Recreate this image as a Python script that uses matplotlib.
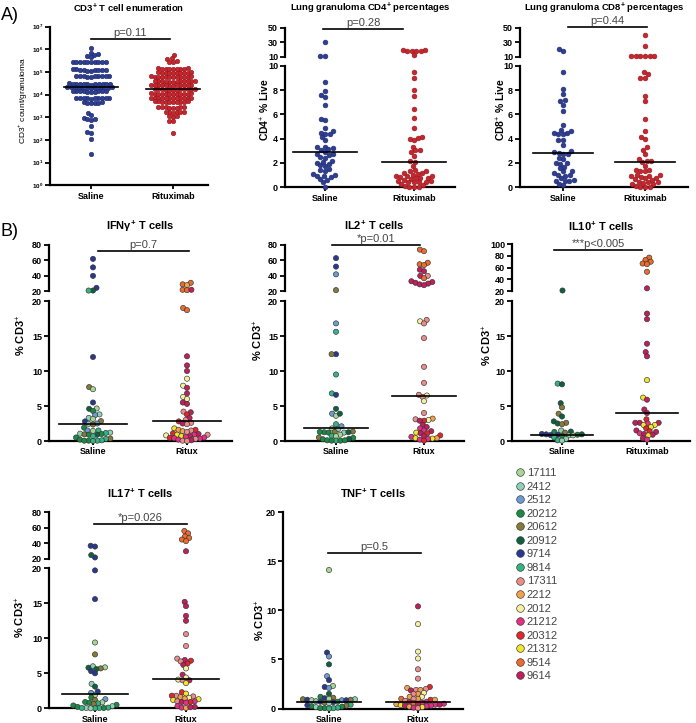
import numpy as np
import matplotlib
matplotlib.use("Agg")
import matplotlib.pyplot as plt
from matplotlib import transforms
from matplotlib.lines import Line2D

plt.rcParams['font.family'] = ['Liberation Sans', 'DejaVu Sans']
plt.rcParams['mathtext.fontset'] = 'custom'
plt.rcParams['mathtext.rm'] = 'Liberation Sans'
plt.rcParams['mathtext.bf'] = 'Liberation Sans:bold'

# ---------------- data ----------------
animal_ids = ['17111', '2412', '2512', '20212', '20612', '20912', '9714', '9814',
              '17311', '2212', '2012', '21212', '20312', '21312', '9514', '9614']
animal_colors = ['#a6d796', '#8fd1b4', '#6c9bd2', '#1a8a45', '#857a3a', '#0f6040',
                 '#283891', '#34b383', '#ec8c8a', '#f4a14e', '#f6f0a0', '#e32f84',
                 '#e3262b', '#f2e52a', '#ec6b2d', '#c21d5e']

# A) CD3 counts per granuloma
cd3_saline = [1.2e6, 7e5, 6e5, 5.5e5, 5e5, 4.5e5,
              2.9e5, 2.8e5, 2.7e5, 2.85e5, 2.75e5, 2.8e5, 2.9e5, 2.7e5, 2.8e5, 2.85e5,
              1.3e5, 1.25e5, 1.2e5, 1.15e5, 1.2e5, 1.25e5, 1.2e5, 1.3e5, 1.15e5, 1.2e5,
              6.8e4, 6.5e4, 6.3e4, 6.6e4, 6.4e4, 6.5e4, 6.7e4, 6.2e4, 6.5e4, 6.6e4,
              3.1e4, 3.0e4, 2.9e4, 3.2e4, 3.0e4, 2.8e4, 3.1e4, 2.9e4, 3.0e4, 3.1e4, 2.9e4, 3.0e4,
              2.1e4, 2.0e4, 1.9e4, 2.2e4, 2.0e4, 2.1e4, 1.95e4, 2.05e4, 2.0e4, 1.9e4, 2.1e4, 2.0e4,
              1.45e4, 1.4e4, 1.35e4, 1.4e4, 1.5e4, 1.4e4, 1.35e4, 1.45e4, 1.4e4, 1.3e4,
              7.2e3, 7e3, 6.8e3, 7.1e3, 6.9e3, 7e3, 7.3e3, 6.7e3, 7e3, 7.1e3,
              4.6e3, 4.4e3, 4.5e3, 4.7e3, 4.3e3, 4.5e3,
              1.6e3, 1.3e3, 9e2, 8.5e2, 8e2, 8.5e2, 4e2, 2.2e2, 2.0e2, 1.1e2, 2.5e1]
cd3_ritux = [5.4e5, 4.0e5, 3.8e5, 3.0e5, 2.8e5, 2.9e5,
             1.4e5, 1.35e5, 1.45e5, 1.4e5, 1.38e5, 1.42e5, 1.36e5, 1.44e5, 1.4e5,
             9.4e4, 9.2e4, 9.6e4, 9.3e4, 9.5e4, 9.4e4, 9.1e4, 9.7e4, 9.4e4, 9.3e4,
             6.2e4, 6.1e4, 6.3e4, 6.0e4, 6.4e4, 6.2e4, 6.1e4, 6.3e4, 6.2e4, 6.0e4, 6.4e4, 6.2e4,
             3.9e4, 3.8e4, 4.0e4, 3.9e4, 3.7e4, 4.1e4, 3.9e4, 3.8e4, 4.0e4, 3.9e4, 3.8e4, 4.0e4,
             2.6e4, 2.5e4, 2.7e4, 2.6e4, 2.55e4, 2.65e4, 2.6e4, 2.5e4, 2.7e4, 2.6e4, 2.55e4, 2.65e4,
             1.7e4, 1.65e4, 1.75e4, 1.7e4, 1.68e4, 1.72e4, 1.7e4, 1.65e4, 1.75e4, 1.7e4, 1.66e4, 1.74e4,
             1.1e4, 1.08e4, 1.12e4, 1.1e4, 1.05e4, 1.15e4, 1.1e4, 1.08e4, 1.12e4, 1.1e4, 1.06e4, 1.14e4,
             7.3e3, 7.1e3, 7.5e3, 7.3e3, 7.2e3, 7.4e3, 7.3e3, 7.1e3, 7.5e3, 7.3e3, 7.2e3, 7.4e3,
             4.9e3, 4.8e3, 5.0e3, 4.9e3, 4.7e3, 5.1e3, 4.9e3, 4.8e3, 5.0e3, 4.9e3,
             2.8e3, 2.7e3, 2.9e3, 2.8e3, 2.6e3, 3.0e3, 2.8e3, 2.7e3,
             1.7e3, 1.6e3, 1.8e3, 1.7e3, 1.65e3, 1.75e3,
             1.1e3, 1.05e3, 1.15e3, 7e2, 6.8e2, 2e2]
cd3_medians = [2.1e4, 1.75e4]

# A) CD4 / CD8 % of live
cd4_saline = [30, 11, 10.8, 8.65, 7.9, 7.6, 7.4, 6.8, 5.6, 5.5, 4.9, 4.6, 4.5, 4.4, 4.35,
              4.1, 3.85, 3.35, 3.3, 3.2, 3.15, 3.1, 2.9, 2.75, 2.7, 2.65, 2.5, 2.45, 2.2,
              2.1, 2.0, 1.9, 1.8, 1.75, 1.5, 1.4, 1.35, 1.1, 1.05, 0.95, 0.9, 0.85, 0.7,
              0.6, 0.4, 0.05]
cd4_ritux = [19.5, 18.5, 18, 12.5, 18, 18, 19, 9.5, 9.0, 8.0, 7.5, 6.4, 5.7, 4.9, 4.1,
             4.05, 4.0, 3.85, 3.35, 3.1, 3.05, 2.9, 2.6, 2.15, 2.1, 1.75, 1.4, 1.35, 1.3,
             1.2, 1.15, 1.1, 1.05, 0.95, 0.9, 0.9, 0.85, 0.8, 0.8, 0.75, 0.7, 0.6, 0.55,
             0.5, 0.45, 0.45, 0.4, 0.4, 0.3, 0.2, 0.1, 0.05, 0.05, 0.0]
cd4_medians = [2.9, 2.1]
cd8_saline = [21, 18, 9.5, 8.1, 7.7, 7.2, 7.1, 6.8, 6.3, 5.1, 4.7, 4.65, 4.5, 4.45, 4.4,
              4.35, 3.9, 3.85, 3.45, 2.95, 2.9, 2.85, 2.75, 2.7, 2.4, 2.3, 2.0, 2.0, 1.95,
              1.7, 1.55, 1.35, 1.3, 1.15, 1.05, 1.0, 0.95, 0.75, 0.6, 0.55, 0.55, 0.5,
              0.25, 0.15]
cd8_ritux = [40, 25, 11, 11, 11, 11, 11, 11, 9.5, 9.3, 9.0, 9.0, 7.5, 7.1, 5.6, 4.6, 4.1,
             4.0, 3.35, 3.1, 2.75, 2.3, 2.2, 2.15, 2.05, 1.75, 1.45, 1.4, 1.35, 1.3, 1.05,
             1.0, 0.95, 0.9, 0.85, 0.8, 0.75, 0.65, 0.6, 0.45, 0.4, 0.4, 0.35, 0.3, 0.25,
             0.1, 0.05, 0.0, 0.0]
cd8_medians = [2.85, 2.1]

# B) cytokine+ % of CD3, (value, animal) pairs
ifng_saline = [(62, '9714'), (51, '9714'), (40, '9714'), (24.5, '9714'), (21, '20912'), (21, '9814'),
               (12.0, '9714'), (7.7, '20612'), (7.4, '17111'), (5.5, '9714'), (4.6, '20912'),
               (4.65, '17111'), (4.3, '20212'), (3.8, '2412'), (3.7, '2512'), (3.3, '2412'),
               (3.15, '17111'), (2.85, '20612'), (2.8, '9714'), (2.5, '2512'), (2.45, '2412'),
               (2.35, '20612'), (1.9, '20212'), (1.5, '2512'), (1.5, '9814'), (1.45, '17111'),
               (1.2, '2412'), (1.15, '9814'), (1.05, '2412'), (1.0, '20212'), (0.95, '20612'),
               (0.9, '20212'), (0.9, '20912'), (0.7, '9814'), (0.5, '20212'), (0.35, '20612'),
               (0.3, '9814'), (0.2, '20212'), (0.1, '9814'), (0.05, '20212'), (0.05, '9814'),
               (0.05, '20212'), (0.0, '9814')]
ifng_ritux = [(31, '9514'), (29, '9514'), (28, '2212'), (22, '9514'), (21.5, '9514'), (22, '9614'),
              (19.0, '9514'), (18.7, '9514'), (12.1, '9614'), (10.8, '9614'), (10.0, '9614'),
              (8.9, '2012'), (7.9, '2012'), (7.6, '9614'), (6.8, '9614'), (6.3, '2012'),
              (6.0, '2012'), (5.5, '9614'), (5.3, '9614'), (4.2, '17311'), (4.1, '9614'),
              (3.8, '20312'), (3.3, '9614'), (3.0, '17311'), (2.8, '20312'), (2.6, '17311'),
              (2.5, '9614'), (2.4, '17311'), (1.8, '21312'), (1.6, '2212'), (1.6, '20312'),
              (1.5, '17311'), (1.4, '2212'), (1.3, '17311'), (1.1, '20312'), (1.0, '9614'),
              (0.9, '21212'), (0.9, '21312'), (0.9, '17311'), (0.8, '2012'), (0.7, '9614'),
              (0.7, '21312'), (0.6, '21212'), (0.5, '21212'), (0.45, '20312'), (0.4, '21212'),
              (0.35, '21212'), (0.3, '17311'), (0.2, '21212'), (0.1, '9614'), (0.05, '17311'),
              (0.0, '17311')]
ifng_medians = [2.5, 2.9]

il2_saline = [(63, '9714'), (52, '9714'), (42, '2512'), (21.5, '20612'),
              (16.8, '2512'), (15.6, '9814'), (12.4, '9714'), (12.4, '20612'), (9.5, '9814'),
              (6.8, '9814'), (6.6, '9714'), (4.6, '20912'), (3.9, '2512'), (3.6, '17111'),
              (3.9, '20912'), (2.4, '9814'), (2.1, '2512'), (1.8, '17111'), (1.7, '2412'),
              (1.35, '20612'), (1.3, '20612'), (1.25, '20212'), (1.2, '20212'), (1.2, '2412'),
              (1.25, '20912'), (1.3, '20212'), (0.9, '17111'), (0.75, '9814'), (0.7, '17111'),
              (0.5, '20612'), (0.45, '20212'), (0.3, '20912'), (0.25, '20212'), (0.1, '20212'),
              (0.05, '9814'), (0.05, '20212'), (0.05, '20212'), (0.1, '20212')]
il2_ritux = [(74, '9514'), (72, '9514'), (57, '9514'), (55, '9514'), (54, '9514'), (48, '9614'),
             (46, '9614'), (40, '9614'), (40, '17311'), (37, '9514'), (33, '9614'), (32, '9614'),
             (31, '9614'), (30, '9614'), (29, '9614'), (28, '9614'),
             (17.3, '17311'), (17.1, '2012'), (16.8, '17311'), (14.7, '17311'), (10.6, '17311'),
             (8.3, '17311'), (6.6, '17311'), (6.5, '2012'), (6.3, '17311'), (5.7, '2012'),
             (4.0, '17311'), (3.2, '2212'), (3.1, '17311'), (3.0, '2012'), (2.9, '20312'),
             (2.9, '9614'), (2.3, '9614'), (2.0, '9614'), (1.8, '21212'), (1.5, '21212'),
             (1.4, '9614'), (1.2, '21312'), (1.1, '9614'), (1.1, '20312'), (0.8, '20312'),
             (0.7, '9614'), (0.6, '21212'), (0.4, '21312'), (0.4, '2212'), (0.35, '21312'),
             (0.3, '21212'), (0.2, '21212'), (0.05, '20312')]
il2_medians = [1.8, 6.4]

il10_saline = [(23, '20912'),
               (8.2, '9814'), (8.1, '20912'), (5.4, '20912'), (4.8, '20612'), (3.9, '20612'),
               (3.5, '20912'), (2.8, '20912'), (2.6, '20612'), (2.5, '20912'), (2.4, '20612'),
               (1.5, '2412'), (1.35, '20912'), (1.3, '20212'), (1.2, '20612'), (1.0, '9714'),
               (0.95, '9714'), (0.9, '9714'), (0.85, '9714'), (0.9, '20212'), (0.8, '2412'),
               (0.95, '20912'), (0.8, '17111'), (0.75, '20212'), (0.5, '9814'), (0.3, '2412'),
               (0.1, '9814'), (0.05, '2412')]
il10_ritux = [(77, '9514'), (73, '9514'), (70, '9514'), (67, '9514'), (66, '9514'), (53, '9514'),
              (25, '9614'),
              (18.2, '9614'), (17.4, '9614'), (13.9, '9614'), (12.7, '9614'), (12.1, '9614'),
              (8.7, '21312'), (6.2, '21312'), (5.9, '9614'), (4.5, '9614'), (4.0, '9614'),
              (3.1, '20312'), (2.6, '9614'), (2.6, '9614'), (2.6, '9614'), (2.5, '21212'),
              (2.3, '21312'), (2.3, '21312'), (2.0, '21312'), (1.8, '20312'), (1.5, '9614'),
              (1.4, '20312'), (1.3, '9614'), (1.1, '21212'), (1.0, '9614'), (0.9, '9614'),
              (0.8, '21312'), (0.4, '9614'), (0.2, '21212')]
il10_medians = [0.9, 4.0]

il17_saline = [(37, '9714'), (36, '9714'), (22, '9714'), (25, '20912'),
               (19.7, '9714'), (15.6, '9714'), (9.4, '17111'), (7.7, '20612'), (6.0, '2412'),
               (5.85, '17111'), (5.8, '20912'), (5.7, '20612'), (5.6, '20912'), (5.0, '9714'),
               (5.3, '9714'), (3.5, '2412'), (3.1, '20912'), (2.4, '9714'), (2.2, '2512'),
               (1.9, '17111'), (1.55, '20212'), (1.3, '2512'), (1.2, '20612'), (0.9, '20212'),
               (0.85, '17111'), (0.8, '20212'), (0.7, '9814'), (0.6, '20612'), (0.5, '20212'),
               (0.4, '20212'), (0.3, '2412'), (0.2, '20212'), (0.1, '9814'), (0.05, '9814'),
               (0.05, '2412'), (0.05, '20212'), (0.0, '9814'), (0.0, '2412'), (0.05, '9814')]
il17_ritux = [(56, '9514'), (53, '9514'), (49, '9514'), (47, '9514'), (45, '9514'), (43, '9514'),
              (30, '9614'),
              (15.2, '9614'), (14.6, '9614'), (13.2, '9614'), (12.5, '9614'), (10.6, '17311'),
              (8.9, '17311'), (7.1, '17311'), (6.9, '9614'), (6.8, '20312'), (6.7, '17311'),
              (6.4, '20312'), (6.2, '9614'), (5.7, '2012'), (4.8, '9614'), (4.4, '2012'),
              (4.1, '2012'), (4.0, '17311'), (4.0, '9614'), (3.6, '21312'), (2.3, '20312'),
              (2.1, '21312'), (1.8, '17311'), (1.8, '20312'), (1.7, '17311'), (1.6, '2212'),
              (1.5, '2012'), (1.4, '2212'), (1.3, '21312'), (1.2, '21312'), (1.0, '17311'),
              (1.0, '21212'), (0.9, '9614'), (0.9, '20312'), (0.8, '21212'), (0.3, '21212'),
              (0.2, '9614'), (0.1, '21212'), (0.05, '2212'), (0.15, '9614')]
il17_medians = [2.0, 4.2]

tnf_saline = [(14.1, '17111'), (5.7, '9714'), (5.3, '2512'), (4.5, '20912'), (3.3, '2512'),
              (2.9, '9714'), (2.3, '17111'), (2.2, '9714'), (2.1, '2512'), (1.5, '20912'),
              (1.2, '20212'), (1.1, '20612'), (1.05, '9714'), (1.0, '17111'), (0.95, '2412'),
              (0.95, '20612'), (0.9, '20612'), (0.9, '9714'), (0.85, '2512'), (0.85, '9714'),
              (0.85, '17111'), (0.75, '2412'), (0.7, '9714'), (0.7, '20212'), (0.65, '9714'),
              (0.6, '20612'), (0.55, '2412'), (0.4, '9814'), (0.35, '9714'), (0.3, '20612'),
              (0.25, '20212'), (0.2, '20212'), (0.15, '2412'), (0.1, '9814'), (0.05, '20212'),
              (0.05, '9814'), (0.05, '20212'), (0.0, '9814')]
tnf_ritux = [(10.4, '9614'), (8.6, '2012'), (5.8, '2012'), (5.1, '2012'), (4.0, '17311'),
             (3.05, '17311'), (2.2, '20312'), (2.1, '2212'), (2.0, '17311'), (1.9, '17311'),
             (1.85, '9614'), (1.9, '2212'), (1.6, '2012'), (1.5, '2212'), (1.5, '17311'),
             (1.2, '2012'), (1.2, '2212'), (1.0, '2212'), (1.0, '17311'), (0.9, '20312'),
             (0.9, '2212'), (1.0, '9514'), (0.8, '17311'), (0.7, '21212'), (0.65, '9614'),
             (0.6, '21212'), (0.55, '9514'), (0.5, '9614'), (0.5, '21212'), (0.45, '2212'),
             (0.4, '21212'), (0.4, '9614'), (0.35, '21312'), (0.3, '21212'), (0.3, '9614'),
             (0.25, '21212'), (0.2, '2212'), (0.15, '21312'), (0.1, '21212'), (0.05, '17311')]
tnf_medians = [0.7, 0.7]

# ---------------- layout helpers ----------------
W, H = 696, 723
fig = plt.figure(figsize=(W / 100, H / 100), dpi=100)
color_of = dict(zip(animal_ids, animal_colors))
BLUE, BLUE_E = '#2e3f93', '#1d2a6b'
RED, RED_E = '#c8262e', '#8e1a20'
TICK_FS = 6.5


def add_px(l, t, r, b):
    return fig.add_axes([l / W, 1 - b / H, (r - l) / W, (b - t) / H])


def style_axis(ax, bottom=True):
    for s in ['top', 'right']:
        ax.spines[s].set_visible(False)
    ax.spines['left'].set_linewidth(1.6)
    ax.spines['bottom'].set_linewidth(1.6)
    ax.patch.set_alpha(0)
    ax.tick_params(axis='y', direction='out', length=3.5, width=1.3, pad=1.5)
    if bottom:
        ax.tick_params(axis='x', direction='out', length=3, width=1.3, pad=1.5)
    else:
        ax.spines['bottom'].set_visible(False)
        ax.set_xticks([])


def swarm(ax, cat, vals, d):
    """beeswarm offsets computed in pixel space, returned in data units"""
    vals = np.asarray(vals, dtype=float)
    ypix = ax.transData.transform(np.column_stack([np.zeros(len(vals)), vals]))[:, 1]
    xs = np.zeros(len(vals))
    px, py = [], []
    for i in np.argsort(ypix, kind='stable'):
        y = ypix[i]
        near = [(a, b) for a, b in zip(px, py) if abs(b - y) < d]
        cands = [0.0]
        for a, b in near:
            dx = np.sqrt(d * d - (b - y) ** 2)
            cands += [a + dx, a - dx]
        cands.sort(key=lambda c: (abs(c), c))
        for c in cands:
            if all((c - a) ** 2 + (y - b) ** 2 >= d * d - 1e-6 for a, b in near):
                xs[i] = c
                break
        px.append(xs[i])
        py.append(y)
    x0, x1 = ax.get_xlim()
    ppu = ax.get_window_extent().width / (x1 - x0)
    return cat + xs / ppu


def set_cats(ax, l, r, sx, rx):
    ax.set_xlim((l - sx) / (rx - sx), (r - sx) / (rx - sx))


def pval(ax, text, x0, x1, yfrac):
    tr = transforms.blended_transform_factory(ax.transData, ax.transAxes)
    ax.plot([x0, x1], [yfrac, yfrac], color='black', lw=1.2, transform=tr, clip_on=False)
    ax.annotate(text, xy=((x0 + x1) / 2, yfrac), xycoords=tr, xytext=(0, 0.8),
                textcoords='offset points', ha='center', va='bottom', fontsize=8,
                color='#444444')


def median_line(ax, cat, m, half=0.36):
    ax.plot([cat - half, cat + half], [m, m], color='black', lw=1.2, zorder=5)


def title(l, r, y, text, fs=7.5):
    fig.text((l + r) / 2 / W, 1 - y / H, text, ha='center', va='center',
             fontsize=fs, fontweight='bold')


def ylabel(x, y, text, fs=7.5, weight='bold'):
    fig.text(x / W, 1 - y / H, text, rotation=90, ha='center', va='center',
             fontsize=fs, fontweight=weight)


def plain_scatter(ax, cat, vals, d, fc, ec, size):
    xs = swarm(ax, cat, vals, d)
    ax.scatter(xs, vals, s=(size * 0.72) ** 2, c=fc, edgecolors=ec, linewidths=0.4,
               zorder=3, clip_on=False)


def id_scatter(ax, cat, pairs, d, size):
    vals = [v for v, _ in pairs]
    cols = [color_of[a] for _, a in pairs]
    if not vals:
        return
    xs = swarm(ax, cat, vals, d)
    ax.scatter(xs, vals, s=(size * 0.72) ** 2, c=cols, edgecolors='#333333', linewidths=0.45,
               zorder=3, clip_on=False)


def broken_pair(l, r, tt, tb, lt, lb, sx, rx, top_lim, top_ticks, low_lim, low_ticks, labels):
    at = add_px(l, tt, r, tb)
    al = add_px(l, lt, r, lb)
    for ax in (at, al):
        set_cats(ax, l, r, sx, rx)
    at.set_ylim(*top_lim)
    al.set_ylim(*low_lim)
    style_axis(at, bottom=False)
    style_axis(al)
    at.set_yticks(top_ticks, labels=[str(t) for t in top_ticks], fontsize=TICK_FS, fontweight='bold')
    al.set_yticks(low_ticks, labels=[str(t) for t in low_ticks], fontsize=TICK_FS, fontweight='bold')
    al.set_xticks([0, 1], labels=labels, fontsize=TICK_FS, fontweight='bold')
    return at, al


# ---------------- A1: CD3 counts (log) ----------------
ax = add_px(50, 26.7, 208, 185.3)
set_cats(ax, 50, 208, 91, 173)
ax.set_yscale('log')
ax.set_ylim(1, 1e7)
style_axis(ax)
ax.minorticks_off()
ax.set_yticks([10.0 ** k for k in range(8)],
              labels=[r'$\mathbf{10^{%d}}$' % k for k in range(8)], fontsize=4.5)
ax.set_xticks([0, 1], labels=['Saline', 'Rituximab'], fontsize=TICK_FS, fontweight='bold')
plain_scatter(ax, 0, cd3_saline, 3.7, BLUE, BLUE_E, 4.5)
plain_scatter(ax, 1, cd3_ritux, 3.7, RED, RED_E, 4.5)
for c, m in enumerate(cd3_medians):
    median_line(ax, c, m, 0.33)
pval(ax, 'p=0.11', 0.0, 0.96, 0.922)
title(50, 208, 8, r'CD3$^{\mathbf{+}}$ T cell enumeration', 6.8)
ylabel(23, 100, r'CD3$^{+}$ count/granuloma', 6, 'normal')

# ---------------- A2 / A3: CD4, CD8 % live ----------------
for (l, r, sx, rx, sal, rit, meds, ptxt, px0, px1, py, ttl, ylab, ylx) in [
        (285, 455, 325, 414, cd4_saline, cd4_ritux, cd4_medians, 'p=0.28', -0.02, 0.88, 0.945,
         r'Lung granuloma CD4$^{\mathbf{+}}$ percentages', r'CD4$^{+}$ % Live', 265),
        (520, 688, 563, 645, cd8_saline, cd8_ritux, cd8_medians, 'p=0.44', 0.06, 1.02, 1.03,
         r'Lung granuloma CD8$^{\mathbf{+}}$ percentages', r'CD8$^{+}$ % Live', 501)]:
    at, al = broken_pair(l, r, 27.7, 56.7, 65.7, 187.3, sx, rx, (10, 50), [10, 30, 50],
                         (0, 10), [0, 2, 4, 6, 8, 10], ['Saline', 'Rituximab'])
    for c, (vals, fc, ec) in enumerate([(sal, BLUE, BLUE_E), (rit, RED, RED_E)]):
        hi = [v for v in vals if v > 10]
        lo = [v for v in vals if v <= 10]
        if hi:
            plain_scatter(at, c, hi, 4.6, fc, ec, 4.8)
        plain_scatter(al, c, lo, 4.6, fc, ec, 4.8)
        median_line(al, c, meds[c], 0.36)
    pval(at, ptxt, px0, px1, py)
    title(l, r, 8, ttl, 6.8)
    ylabel(ylx, 110, ylab, 7.5)

# ---------------- B: cytokine panels ----------------
panels = [
    # l, r, top_t, top_b, low_t, low_b, sx, rx, top_max, sal, rit, meds, ptxt, px0, px1, py,
    # title, title_y, xlabels, ylabel_x, ylabel_y
    (49, 232, 245, 291.3, 301, 441, 93, 187, 80, ifng_saline, ifng_ritux, ifng_medians,
     'p=0.7', 0.05, 1.02, 0.877, r'IFN$\mathbf{\gamma}^{\mathbf{+}}$ T cells', 226, ['Saline', 'Ritux'], 21, 335),
    (285, 464, 245, 291.3, 301, 441, 336, 424, 80, il2_saline, il2_ritux, il2_medians,
     '*p=0.01', -0.05, 0.95, 1.0, r'IL2$^{\mathbf{+}}$ T cells', 225, ['Saline', 'Ritux'], 258, 340),
    (512, 690, 244, 291.3, 301, 441, 562, 647, 100, il10_saline, il10_ritux, il10_medians,
     '***p<0.005', -0.09, 0.94, 0.877, r'IL10$^{\mathbf{+}}$ T cells', 226, ['Saline', 'Rituximab'], 487, 345),
    (49, 231, 512.3, 559, 568.3, 708.3, 95, 186, 80, il17_saline, il17_ritux, il17_medians,
     '*p=0.026', -0.01, 1.01, 0.75, r'IL17$^{\mathbf{+}}$ T cells', 493, ['Saline', 'Ritux'], 20, 617),
]
for (l, r, tt, tb, lt, lb, sx, rx, tmax, sal, rit, meds, ptxt, px0, px1, py,
     ttl, ty, xl, ylx, yly) in panels:
    top_ticks = list(range(20, tmax + 1, 20))
    at, al = broken_pair(l, r, tt, tb, lt, lb, sx, rx, (20, tmax), top_ticks,
                         (0, 20), [0, 5, 10, 15, 20], xl)
    for c, pairs in enumerate([sal, rit]):
        id_scatter(at, c, [p for p in pairs if p[0] > 20], 4.4, 5.2)
        id_scatter(al, c, [p for p in pairs if p[0] <= 20], 4.4, 5.2)
        median_line(al, c, meds[c], 0.36)
    pval(at, ptxt, px0, px1, py)
    title(l, r, ty, ttl, 8)
    ylabel(ylx, yly, r'% CD3$^{+}$', 8)

# TNF (single axis)
ax = add_px(283, 512, 463, 708.6)
set_cats(ax, 283, 463, 329, 418)
ax.set_ylim(0, 20)
style_axis(ax)
ax.set_yticks([0, 5, 10, 15, 20], labels=['0', '5', '10', '15', '20'], fontsize=TICK_FS, fontweight='bold')
ax.set_xticks([0, 1], labels=['Saline', 'Ritux'], fontsize=TICK_FS, fontweight='bold')
for c, pairs in enumerate([tnf_saline, tnf_ritux]):
    id_scatter(ax, c, pairs, 4.4, 5.2)
    median_line(ax, c, tnf_medians[c], 0.36)
pval(ax, 'p=0.5', -0.01, 1.03, 0.79)
title(283, 463, 493, r'TNF$^{\mathbf{+}}$ T cells', 8)
ylabel(260, 620, r'% CD3$^{+}$', 8)

# panel letters
fig.text(1 / W, 1 - 15 / H, 'A)', fontsize=13, va='center', ha='left')
fig.text(1 / W, 1 - 232 / H, 'B)', fontsize=13, va='center', ha='left')

# legend of animals
handles = [Line2D([], [], marker='o', ls='', markerfacecolor=color_of[a], markeredgecolor='#333333',
                  markeredgewidth=0.45, markersize=5.5, label=a) for a in animal_ids]
fig.legend(handles=handles, loc='upper left', bbox_to_anchor=(515 / W, 1 - 468 / H),
           frameon=False, fontsize=8, labelspacing=0.32, handletextpad=0.15, handlelength=0.9,
           borderpad=0, borderaxespad=0, labelcolor='#444444')

fig.savefig('out.png', dpi=100)
